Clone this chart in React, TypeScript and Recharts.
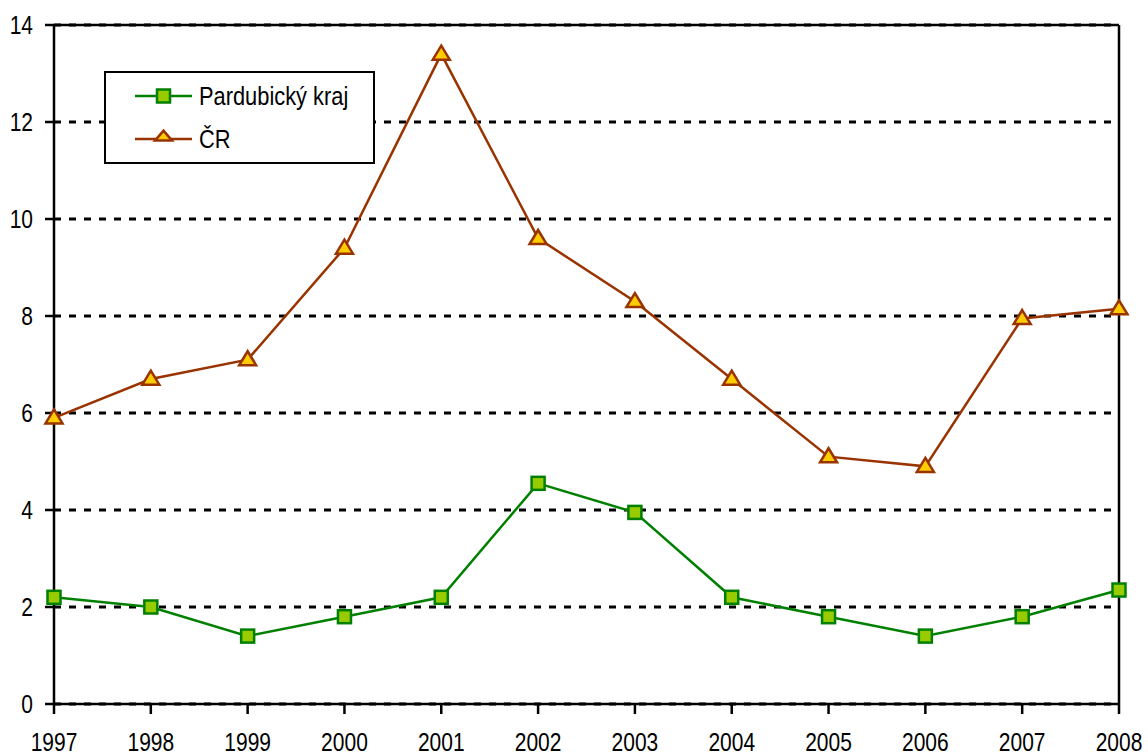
import React from "react";
import { LineChart, Line, XAxis, YAxis, CartesianGrid, ReferenceLine } from "recharts";

const years = ["1997", "1998", "1999", "2000", "2001", "2002", "2003", "2004", "2005", "2006", "2007", "2008"];
const pardubicky = [2.2, 2.0, 1.4, 1.8, 2.2, 4.55, 3.95, 2.2, 1.8, 1.4, 1.8, 2.35];
const cr = [5.9, 6.7, 7.1, 9.4, 13.4, 9.6, 8.3, 6.7, 5.1, 4.9, 7.95, 8.15];
const yTicks = [0, 2, 4, 6, 8, 10, 12, 14];

const seriesNames = { p: "Pardubický kraj", c: "ČR" };

const data = years.map((y, i) => ({ year: y, p: pardubicky[i], c: cr[i] }));

const FONT = "'Liberation Sans', Arial, sans-serif";
const SX = 0.84;

const GREEN = "#008000";
const GREEN_FILL = "#99CC00";
const BROWN = "#993300";
const YELLOW = "#FFCC00";

const SquareDot = (props: any) => {
  const { cx, cy, index } = props;
  if (cx == null || cy == null) return <g key={`s-${index}`} />;
  return (
    <rect key={`s-${index}`} x={cx - 6.5} y={cy - 6.5} width={13} height={13} fill={GREEN_FILL} stroke={GREEN} strokeWidth={2.5} />
  );
};

const TriDot = (props: any) => {
  const { cx, cy, index } = props;
  if (cx == null || cy == null) return <g key={`t-${index}`} />;
  const h = 14;
  const w = 17;
  const pts = `${cx},${cy - h * 0.6} ${cx + w / 2},${cy + h * 0.4} ${cx - w / 2},${cy + h * 0.4}`;
  return <polygon key={`t-${index}`} points={pts} fill={YELLOW} stroke={BROWN} strokeWidth={2.5} strokeLinejoin="miter" />;
};

const XTick = (props: any) => {
  const { x, y, payload } = props;
  return (
    <g transform={`translate(${x},${y})`}>
      <text transform={`scale(${SX},1)`} x={0} y={0} dy={18} textAnchor="middle" fontFamily={FONT} fontSize={25} fill="#000">
        {payload.value}
      </text>
    </g>
  );
};

const YTick = (props: any) => {
  const { x, y, payload } = props;
  return (
    <g transform={`translate(${x},${y})`}>
      <text transform={`scale(${SX},1)`} x={0} y={0} dy={9} textAnchor="end" fontFamily={FONT} fontSize={25} fill="#000">
        {payload.value}
      </text>
    </g>
  );
};

const LegendBox = () => (
  <svg width={271} height={93} style={{ position: "absolute", left: 104, top: 71 }}>
    <rect x={1} y={1} width={269} height={91} fill="#fff" stroke="#000" strokeWidth={2} />
    <line x1={31} y1={25} x2={88} y2={25} stroke={GREEN} strokeWidth={2.5} />
    <rect x={53} y={18.5} width={13} height={13} fill={GREEN_FILL} stroke={GREEN} strokeWidth={2.5} />
    <line x1={31} y1={68} x2={88} y2={68} stroke={BROWN} strokeWidth={2.5} />
    <polygon points={`59.5,59.6 68,69.6 51,69.6`} fill={YELLOW} stroke={BROWN} strokeWidth={2.5} />
    <g transform="translate(95,34)">
      <text transform={`scale(${SX},1)`} x={0} y={0} fontFamily={FONT} fontSize={26} fill="#000">{seriesNames.p}</text>
    </g>
    <g transform="translate(95,77)">
      <text transform={`scale(${SX},1)`} x={0} y={0} fontFamily={FONT} fontSize={26} fill="#000">{seriesNames.c}</text>
    </g>
  </svg>
);

export default function App() {
  return (
    <div style={{ position: "absolute", left: 0, top: 0, width: 1148, height: 756, background: "#fff", overflow: "hidden" }}>
      <LineChart width={1148} height={756} data={data} margin={{ top: 25, right: 29, left: 0, bottom: 0 }}>
        <CartesianGrid vertical={false} stroke="#000" strokeWidth={3} strokeDasharray="7 8" />
        <XAxis
          dataKey="year"
          height={52}
          interval={0}
          tickSize={10}
          tickMargin={19}
          axisLine={{ stroke: "#000", strokeWidth: 2.5 }}
          tickLine={{ stroke: "#000", strokeWidth: 2.5 }}
          tick={<XTick />}
          padding={{ left: 0, right: 0 }}
        />
        <YAxis
          width={54}
          domain={[0, 14]}
          ticks={yTicks}
          interval={0}
          tickSize={9}
          tickMargin={12}
          axisLine={{ stroke: "#000", strokeWidth: 2.5 }}
          tickLine={{ stroke: "#000", strokeWidth: 2.5 }}
          tick={<YTick />}
        />
        <ReferenceLine y={14} stroke="#000" strokeWidth={2.5} />
        <ReferenceLine x="2008" stroke="#000" strokeWidth={2.5} />
        <Line
          type="linear"
          dataKey="p"
          name={seriesNames.p}
          stroke={GREEN}
          strokeWidth={2.5}
          dot={SquareDot}
          activeDot={false}
          isAnimationActive={false}
        />
        <Line
          type="linear"
          dataKey="c"
          name={seriesNames.c}
          stroke={BROWN}
          strokeWidth={2.5}
          dot={TriDot}
          activeDot={false}
          isAnimationActive={false}
        />
      </LineChart>
      <LegendBox />
    </div>
  );
}
